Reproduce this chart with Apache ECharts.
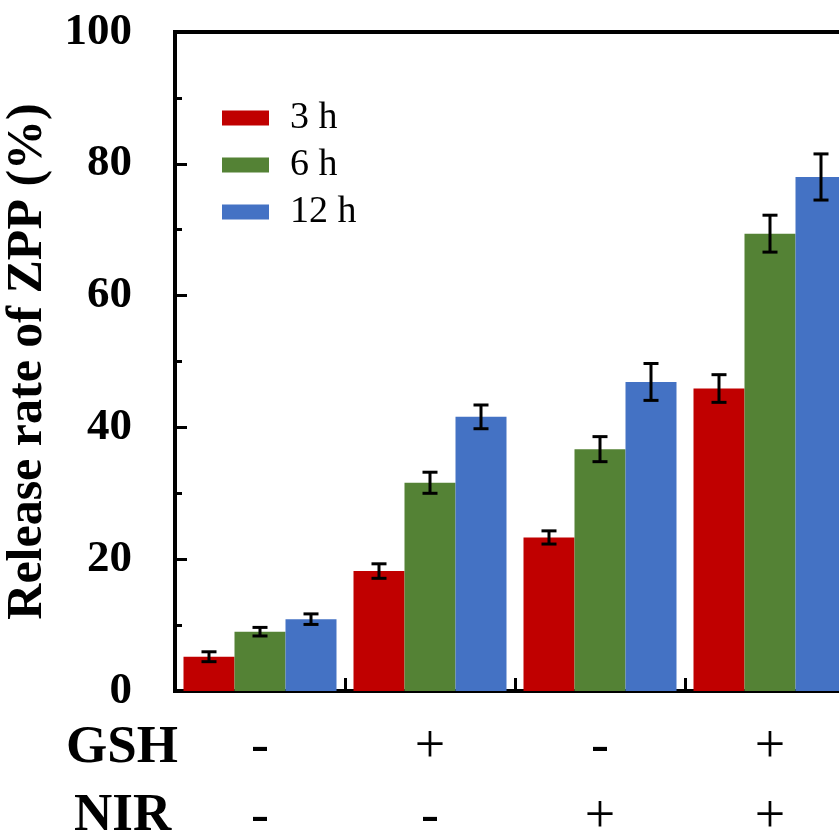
<!DOCTYPE html>
<html>
<head>
<meta charset="utf-8">
<script src="https://cdn.jsdelivr.net/npm/echarts@6/dist/echarts.min.js"></script>
<style>
  html, body { margin: 0; padding: 0; background: #fff; }
  #chart { width: 839px; height: 838px; }
</style>
</head>
<body>
<div id="chart"></div>
<script>
// groups: GSH / NIR treatment combos
const groups = ["g1", "g2", "g3", "g4"];
const gshSigns = ["-", "+", "-", "+"];
const nirSigns = ["-", "-", "+", "+"];

const seriesNames = ["3 h", "6 h", "12 h"];
const h3 = [5.2, 18.2, 23.3, 45.9];
const h3Err = [0.75, 1.1, 1.0, 2.1];
const h6 = [9.0, 31.6, 36.7, 69.4];
const h6Err = [0.65, 1.6, 1.9, 2.8];
const h12 = [10.9, 41.6, 46.9, 78.0];
const h12Err = [0.8, 1.8, 2.8, 3.5];

const colors = ["#C00000", "#548235", "#4472C4"];
const font = "Liberation Serif";

const values = [h3, h6, h12];
const errors = [h3Err, h6Err, h12Err];

let chart = echarts.init(document.getElementById("chart"));

function errorBar(k) {
  return {
    type: "custom",
    name: seriesNames[k] + " err",
    z: 5,
    data: values[k].map(function (v, i) { return [i, v, errors[k][i]]; }),
    renderItem: function (params, api) {
      let cat = api.value(0), val = api.value(1), err = api.value(2);
      let band = api.size([1, 0])[0];
      let barW = band * 0.9 / 3;
      let x = api.coord([cat, 0])[0] + (k - 1) * barW;
      let top = api.coord([cat, val + err])[1];
      let bot = api.coord([cat, val - err])[1];
      let cap = 7.5;
      let st = { stroke: "#000", lineWidth: 3 };
      return {
        type: "group",
        children: [
          { type: "line", shape: { x1: x, y1: top, x2: x, y2: bot }, style: st },
          { type: "line", shape: { x1: x - cap, y1: top, x2: x + cap, y2: top }, style: st },
          { type: "line", shape: { x1: x - cap, y1: bot, x2: x + cap, y2: bot }, style: st }
        ]
      };
    }
  };
}

let barSeries = seriesNames.map(function (name, k) {
  return {
    type: "bar",
    name: name,
    data: values[k],
    barGap: "0%",
    barCategoryGap: "10%",
    itemStyle: { color: colors[k] }
  };
});

let option = {
  animation: false,
  grid: {
    left: 175, right: -16, top: 32, bottom: 147,
    outerBoundsMode: "none",
    containLabel: false,
    show: true, borderColor: "#000", borderWidth: 4
  },
  legend: {
    data: seriesNames,
    orient: "vertical",
    left: 222, top: 99,
    padding: 0,
    icon: "rect",
    itemWidth: 47, itemHeight: 15, itemGap: 9,
    textStyle: { fontFamily: font, fontSize: 38, lineHeight: 30, color: "#000", padding: [0, 0, 0, 16] }
  },
  xAxis: {
    type: "category",
    data: groups,
    axisLine: { lineStyle: { color: "#000", width: 4 } },
    axisTick: { show: true, inside: true, length: 13, interval: 0, lineStyle: { color: "#000", width: 3 } },
    axisLabel: {
      interval: 0,
      margin: 22,
      color: "#000",
      fontFamily: font,
      fontSize: 54,
      lineHeight: 70,
      formatter: function (v, i) { return gshSigns[i] + "\n" + nirSigns[i]; }
    }
  },
  yAxis: {
    type: "value",
    min: 0, max: 100, interval: 20,
    name: "Release rate of ZPP (%)",
    nameLocation: "middle",
    nameGap: 122,
    nameTextStyle: { fontFamily: font, fontWeight: "bold", fontSize: 50, color: "#000" },
    axisLine: { show: true, lineStyle: { color: "#000", width: 4 } },
    axisTick: { show: true, inside: true, length: 12, lineStyle: { color: "#000", width: 3 } },
    minorTick: { show: true, splitNumber: 2, length: 7, lineStyle: { color: "#000", width: 3 } },
    splitLine: { show: false },
    axisLabel: { margin: 43, color: "#000", fontFamily: font, fontWeight: "bold", fontSize: 45 }
  },
  graphic: [
    { type: "text", left: 66, top: 722, style: { text: "GSH", fontFamily: font, fontWeight: "bold", fontSize: 53, fill: "#000" } },
    { type: "text", left: 74, top: 790, style: { text: "NIR", fontFamily: font, fontWeight: "bold", fontSize: 53, fill: "#000" } }
  ],
  series: barSeries.concat([errorBar(0), errorBar(1), errorBar(2)])
};

chart.setOption(option);
</script>
</body>
</html>
